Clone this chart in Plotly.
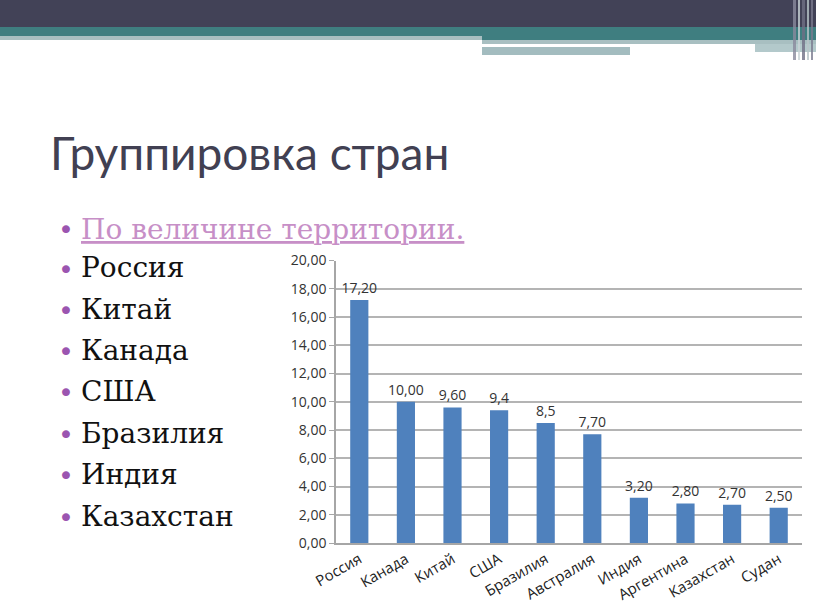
import plotly.graph_objects as go

# ---- data ----
countries = ["Россия", "Канада", "Китай", "США", "Бразилия", "Австралия",
             "Индия", "Аргентина", "Казахстан", "Судан"]
areas = [17.2, 10.0, 9.6, 9.4, 8.5, 7.7, 3.2, 2.8, 2.7, 2.5]
area_labels = ["17,20", "10,00", "9,60", "9,4", "8,5", "7,70", "3,20", "2,80", "2,70", "2,50"]
y_ticks = [0, 2, 4, 6, 8, 10, 12, 14, 16, 18, 20]
y_tick_labels = ["0,00", "2,00", "4,00", "6,00", "8,00", "10,00", "12,00", "14,00",
                 "16,00", "18,00", "20,00"]
title_text = "Группировка стран"
link_text = "По величине территории."
bullet_items = ["Россия", "Китай", "Канада", "США", "Бразилия", "Индия", "Казахстан"]

W, H = 816, 613
def py(p):  # pixel-from-top -> paper y
    return 1 - p / H
def px(p):
    return p / W

fig = go.Figure()
fig.add_trace(go.Bar(
    x=list(range(len(countries))), y=areas,
    text=area_labels, textposition="outside", constraintext="none",
    textfont=dict(family="Open Sans", size=14, color="#333333"),
    marker=dict(color="#4f81bd", line=dict(width=0)),
    width=0.39, cliponaxis=False, showlegend=False,
))

shapes = []
# header bars
shapes.append(dict(type="rect", xref="paper", yref="paper", x0=0, x1=1, y0=py(27), y1=1,
                   fillcolor="#424257", line=dict(width=0), layer="below"))
shapes.append(dict(type="rect", xref="paper", yref="paper", x0=0, x1=1, y0=py(36), y1=py(27),
                   fillcolor="#3f7e80", line=dict(width=0), layer="below"))
shapes.append(dict(type="rect", xref="paper", yref="paper", x0=0, x1=px(482), y0=py(40), y1=py(36),
                   fillcolor="#a8bfc1", line=dict(width=0), layer="below"))
shapes.append(dict(type="rect", xref="paper", yref="paper", x0=px(482), x1=1, y0=py(40), y1=py(36),
                   fillcolor="#3f7e80", line=dict(width=0), layer="below"))
shapes.append(dict(type="rect", xref="paper", yref="paper", x0=px(482), x1=1, y0=py(44), y1=py(40),
                   fillcolor="#a8bfc1", line=dict(width=0), layer="below"))
shapes.append(dict(type="rect", xref="paper", yref="paper", x0=px(482), x1=px(630), y0=py(55), y1=py(47),
                   fillcolor="#a3bcbf", line=dict(width=0), layer="below"))
shapes.append(dict(type="rect", xref="paper", yref="paper", x0=px(755), x1=1, y0=py(52), y1=py(44),
                   fillcolor="#b3c9cb", line=dict(width=0), layer="below"))
# right vertical stripes
for x0, x1, c in [(793, 796, "#8a8a9c"), (798, 800, "#c9d3d6"), (802, 805, "#6f6f84"),
                  (807, 809, "#b8c4c8"), (811, 813, "#7a7a8e")]:
    shapes.append(dict(type="rect", xref="paper", yref="paper", x0=px(x0), x1=px(x1),
                       y0=py(60), y1=1, fillcolor=c, line=dict(width=0), layer="below",
                       opacity=0.8))

annotations = []
annotations.append(dict(text=title_text, x=px(48), y=py(153), xref="paper", yref="paper",
                        xanchor="left", yanchor="middle", showarrow=False,
                        font=dict(family="Lato", size=46, color="#414052")))
rows_y = [229, 268, 309, 350, 391, 433, 474, 516]
texts = ["<u>" + link_text + "</u>"] + bullet_items
colors = ["#c78fc7"] + ["#111111"] * len(bullet_items)
for yy, t, c in zip(rows_y, texts, colors):
    annotations.append(dict(text="•", x=px(66), y=py(yy + 1), xref="paper", yref="paper",
                            xanchor="center", yanchor="middle", showarrow=False,
                            font=dict(family="DejaVu Sans", size=27, color="#9b55b0")))
    annotations.append(dict(text=t, x=px(79), y=py(yy), xref="paper", yref="paper",
                            xanchor="left", yanchor="middle", showarrow=False,
                            font=dict(family="DejaVu Serif", size=28, color=c)))

fig.update_layout(
    width=W, height=H,
    margin=dict(l=0, r=0, t=0, b=0, pad=0, autoexpand=False),
    paper_bgcolor="white", plot_bgcolor="white",
    shapes=shapes, annotations=annotations,
    xaxis=dict(domain=[px(336), px(802)], range=[-0.5, 9.5], automargin=False,
               tickmode="array", tickvals=list(range(len(countries))), ticktext=countries,
               tickangle=-30, showgrid=False, zeroline=False,
               showline=True, linecolor="#a6a6a6", linewidth=1.5,
               ticks="", tickfont=dict(family="Open Sans", size=15, color="#222222"),
               fixedrange=True),
    yaxis=dict(domain=[py(543), py(260.5)], range=[0, 20], automargin=False,
               tickmode="array", tickvals=y_ticks, ticktext=y_tick_labels,
               showgrid=True, gridcolor="#b4b4b4", gridwidth=1.5,
               zeroline=False, showline=True, linecolor="#a6a6a6", linewidth=1.5,
               ticks="outside", ticklen=5, tickcolor="#a6a6a6",
               tickfont=dict(family="Open Sans", size=14, color="#333333"),
               fixedrange=True),
)

fig.write_html("out.html")
